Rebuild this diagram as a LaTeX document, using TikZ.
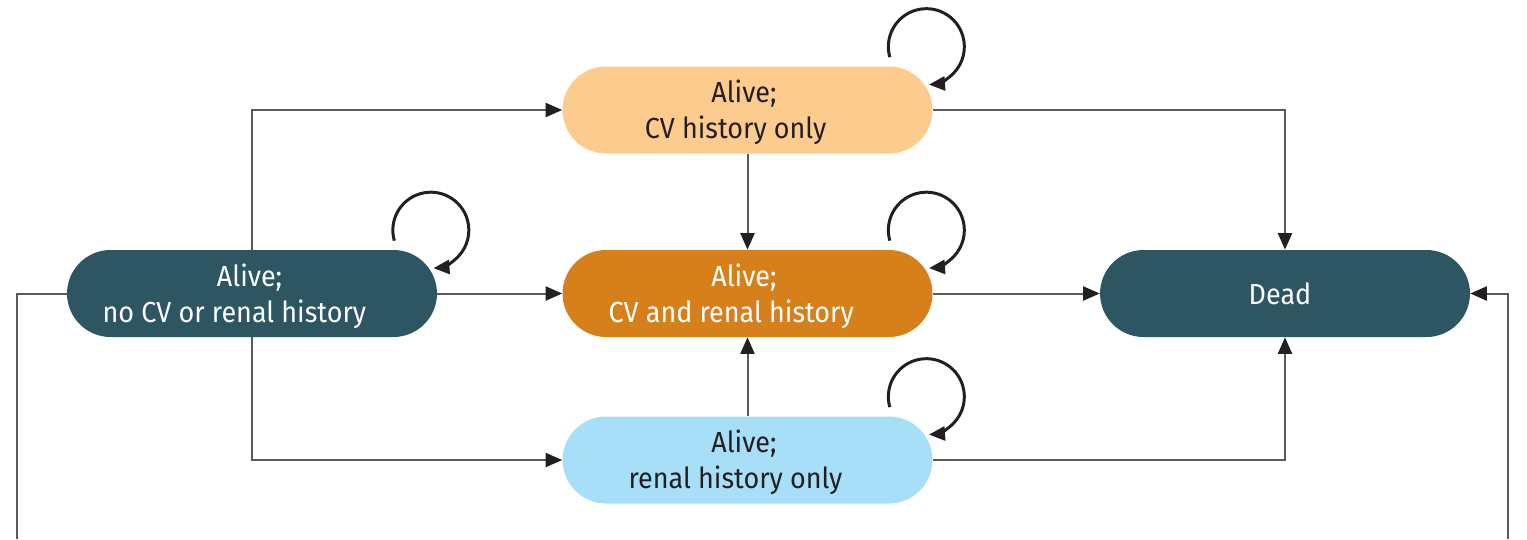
\documentclass[tikz,border=0pt]{standalone}
\usepackage{fontspec}
\setmainfont{Fira Sans}[FakeStretch=0.93]
\usepackage{tikz}
\usepackage{xcolor}
\usetikzlibrary{positioning,arrows.meta}

\definecolor{tealdark}{HTML}{2E5662}
\definecolor{peach}{HTML}{FDCB8D}
\definecolor{ochre}{HTML}{D6801C}
\definecolor{skyblue}{HTML}{A8DFF8}
\definecolor{inkgray}{HTML}{231F20}
\definecolor{linegray}{HTML}{5A5A5A}

\tikzset{
  state/.style={shape=rectangle,rounded corners=0.87cm,minimum width=7.4cm,
    minimum height=1.74cm,align=center,font=\fontsize{16.5}{20.5}\selectfont},
  twoline/.style={text height=36.5pt},
  flow/.style={draw=linegray,line width=1.15pt,-{Triangle[length=3.3mm,width=2.8mm,color=inkgray]}},
  plainline/.style={draw=linegray,line width=1.15pt},
  selfloop/.style={draw=inkgray,line width=1.7pt,-{Triangle[length=3.2mm,width=2.8mm]}}
}

\begin{document}
\begin{tikzpicture}[x=0.02cm,y=-0.02cm]
\useasboundingbox (0,0) rectangle (1527,539);

\draw node[state,twoline,fill=tealdark,text=white] (none) at (252,293.5) {Alive;\kern2.8pt\\no CV or renal history\kern20pt};
\draw node[state,twoline,fill=peach,text=inkgray] (cvonly) at (747.5,110) {Alive;\kern4pt\\CV history only\kern13.6pt};
\draw node[state,twoline,fill=ochre,text=white] (both) at (747.5,293.5) {Alive;\kern4pt\\CV and renal history\kern18.5pt};
\draw node[state,twoline,fill=skyblue,text=inkgray] (renal) at (747.5,460) {Alive;\kern4pt\\renal history only\kern13.6pt};
\draw node[state,fill=tealdark,text=white] (dead) at (1285,293.5) {Dead\kern5.7pt};

\coordinate (leftfoot) at (17,539);
\coordinate (rightfoot) at (1508,539);

\draw[flow] (none.north) |- (cvonly.west);
\draw[flow] (none.east) -- (both.west);
\draw[flow] (none.south) |- (renal.west);
\draw[flow] (cvonly.south) -- (both.north);
\draw[flow] (renal.north) -- (both.south);
\draw[flow] (cvonly.east) -| (dead.north);
\draw[flow] (both.east) -- (dead.west);
\draw[flow] (renal.east) -| (dead.south);
\draw[plainline] (none.west) -| (leftfoot);
\draw[flow] (rightfoot) |- (dead.east);

% self transitions
\foreach \s in {none,cvonly,both,renal}
  \draw[selfloop] ([shift={(-43,-9)}]\s.north east) arc[start angle=164,end angle=446,radius=38];
\end{tikzpicture}
\end{document}
